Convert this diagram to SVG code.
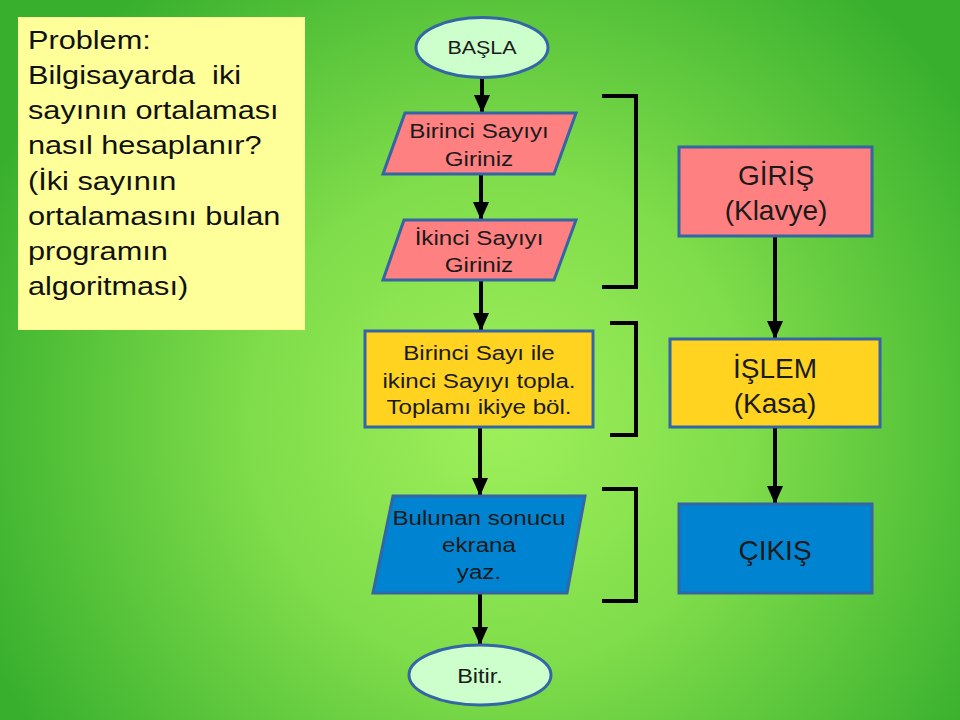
<svg xmlns="http://www.w3.org/2000/svg" width="960" height="720" viewBox="0 0 960 720">
<defs>
<radialGradient id="bg" cx="500" cy="420" r="560" gradientUnits="userSpaceOnUse">
<stop offset="0" stop-color="#9ef05a"/>
<stop offset="0.45" stop-color="#7fdc4a"/>
<stop offset="1" stop-color="#38b02e"/>
</radialGradient>
<marker id="ah" markerUnits="userSpaceOnUse" markerWidth="18" markerHeight="24" refX="17" refY="8" orient="auto" viewBox="0 0 18 16">
<path d="M0,0 L18,8 L0,16 Z" fill="#000"/>
</marker>
<style>
.t{font-family:"Liberation Sans",Arial,sans-serif;fill:#1a1a1a;text-anchor:middle}
.f{font-size:21px}
.r{font-size:28px}
.s{stroke:#3465a4;stroke-width:3}
.c{stroke:#000;stroke-width:4;fill:none}
.br{stroke:#000;stroke-width:4;fill:none}
</style>
</defs>
<rect width="960" height="720" fill="url(#bg)"/>
<g id="problem">
<rect x="18" y="17" width="287" height="313" fill="#ffff99"/>
<g transform="translate(28 0) scale(1.18 1)" font-family="Liberation Sans, Arial, sans-serif" font-size="26" fill="#111">
<text x="0" y="49">Problem:</text>
<text x="0" y="84" xml:space="preserve">Bilgisayarda  iki</text>
<text x="0" y="119">sayının ortalaması</text>
<text x="0" y="154">nasıl hesaplanır?</text>
<text x="0" y="190">(İki sayının</text>
<text x="0" y="225">ortalamasını bulan</text>
<text x="0" y="260">programın</text>
<text x="0" y="295">algoritması)</text>
</g>
</g>
<g id="connectors">
<line class="c" x1="482" y1="78" x2="482" y2="112" marker-end="url(#ah)"/>
<line class="c" x1="481" y1="174" x2="481" y2="219" marker-end="url(#ah)"/>
<line class="c" x1="481" y1="281" x2="481" y2="330" marker-end="url(#ah)"/>
<line class="c" x1="480" y1="428" x2="480" y2="495" marker-end="url(#ah)"/>
<line class="c" x1="480" y1="594" x2="480" y2="644" marker-end="url(#ah)"/>
<line class="c" x1="775" y1="236" x2="775" y2="338" marker-end="url(#ah)"/>
<line class="c" x1="775" y1="427" x2="775" y2="503" marker-end="url(#ah)"/>
</g>
<g id="brackets">
<path class="br" d="M602,96 H636 V287 H602"/>
<path class="br" d="M610,323 H636 V435 H610"/>
<path class="br" d="M602,489 H636 V601 H602"/>
</g>
<g id="basla">
<ellipse class="s" cx="482" cy="47.5" rx="66" ry="30" fill="#ccffcc"/>
<text class="t" transform="translate(482 0) scale(1.13 1)" x="0" y="54" font-size="19">BAŞLA</text>
</g>
<g id="birinci">
<polygon class="s" points="405,113 576,113 554,174 383,174" fill="#ff8080"/>
<g transform="translate(479 0) scale(1.15 1)">
<text class="t f" x="0" y="138">Birinci Sayıyı</text>
<text class="t f" x="0" y="166">Giriniz</text>
</g>
</g>
<g id="ikinci">
<polygon class="s" points="404,220 576,220 554,280 383,280" fill="#ff8080"/>
<g transform="translate(479 0) scale(1.15 1)">
<text class="t f" x="0" y="245">İkinci Sayıyı</text>
<text class="t f" x="0" y="272">Giriniz</text>
</g>
</g>
<g id="islem-adim">
<rect class="s" x="365" y="331" width="228" height="96" fill="#ffd320"/>
<g transform="translate(479 0) scale(1.15 1)">
<text class="t f" x="0" y="360">Birinci Sayı ile</text>
<text class="t f" x="0" y="388">ikinci Sayıyı topla.</text>
<text class="t f" x="0" y="414">Toplamı ikiye böl.</text>
</g>
</g>
<g id="yaz">
<polygon class="s" points="393,496 585,496 567,593 373,593" fill="#0084d1"/>
<g transform="translate(479 0) scale(1.15 1)">
<text class="t f" x="0" y="525">Bulunan sonucu</text>
<text class="t f" x="0" y="552">ekrana</text>
<text class="t f" x="0" y="579">yaz.</text>
</g>
</g>
<g id="bitir">
<ellipse class="s" cx="480" cy="675" rx="71" ry="30" fill="#ccffcc"/>
<text class="t f" transform="translate(480 0) scale(1.12 1)" x="0" y="683">Bitir.</text>
</g>
<g id="giris">
<rect class="s" x="679" y="147" width="193" height="89" fill="#ff8080"/>
<text class="t r" x="776" y="185">GİRİŞ</text>
<text class="t r" x="776" y="220">(Klavye)</text>
</g>
<g id="islem">
<rect class="s" x="670" y="339" width="210" height="88" fill="#ffd320"/>
<text class="t r" x="775" y="378">İŞLEM</text>
<text class="t r" x="775" y="413">(Kasa)</text>
</g>
<g id="cikis">
<rect class="s" x="679" y="504" width="193" height="89" fill="#0084d1"/>
<text class="t r" x="775" y="560">ÇIKIŞ</text>
</g>
</svg>
